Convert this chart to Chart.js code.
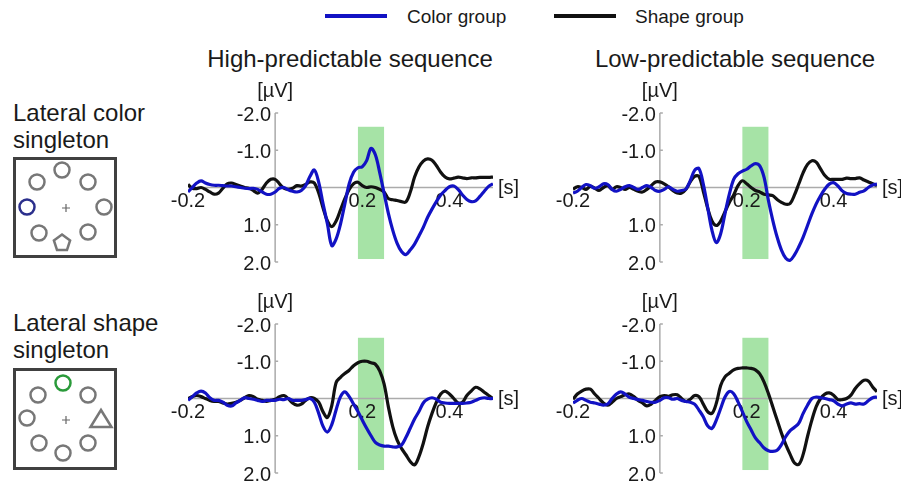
<!DOCTYPE html>
<html>
<head>
<meta charset="utf-8">
<title>ERP difference waves</title>
<script src="https://cdn.jsdelivr.net/npm/chart.js@4.4.1/dist/chart.umd.min.js"></script>
<style>
  body {
    margin: 0;
    width: 901px;
    height: 486px;
    position: relative;
    overflow: hidden;
    background: #fff;
    font-family: "Liberation Sans", Arial, sans-serif;
    color: #1a1a1a;
  }
  .txt { position: absolute; white-space: nowrap; }
  .legend { font-size: 19px; line-height: 19px; top: 7px; }
  .legend-line { position: absolute; top: 14px; height: 4px; width: 62px; }
  .title { font-size: 24px; line-height: 24px; top: 47px; width: 340px; text-align: center; }
  .row-label { font-size: 24px; line-height: 27px; left: 13px; }
  .panel { position: absolute; }
  svg { position: absolute; left: 0; top: 0; }
</style>
</head>
<body>

<div class="legend-line" style="left:325px;background:#1212c4"></div>
<div class="txt legend" style="left:407px">Color group</div>
<div class="legend-line" style="left:554px;background:#111"></div>
<div class="txt legend" style="left:635px">Shape group</div>

<div class="txt title" style="left:180px">High-predictable sequence</div>
<div class="txt title" style="left:565px">Low-predictable sequence</div>

<div class="txt row-label" style="top:99px">Lateral color<br>singleton</div>
<div class="txt row-label" style="top:309px">Lateral shape<br>singleton</div>

<!-- search displays -->
<svg width="130" height="486" viewBox="0 0 130 486">
  <g fill="none" stroke-width="2.5">
    <rect x="14.5" y="158.5" width="101" height="98" stroke="#404040" stroke-width="3"/>
    <g stroke="#777">
      <circle cx="62" cy="170" r="7.5"/>
      <circle cx="37" cy="182" r="7.5"/>
      <circle cx="88" cy="182" r="7.5"/>
      <circle cx="104" cy="207" r="7.5"/>
      <circle cx="39" cy="233" r="7.5"/>
      <circle cx="88" cy="232" r="7.5"/>
      <polygon points="62,234.5 70.1,240.4 67,249.9 57,249.9 53.9,240.4"/>
    </g>
    <circle cx="27" cy="207" r="7.5" stroke="#2b2f8c"/>
    <path d="M62 208h8M66 204v8" stroke="#666" stroke-width="1.2"/>

    <rect x="14.5" y="369.5" width="101" height="99" stroke="#404040" stroke-width="3"/>
    <g stroke="#777">
      <circle cx="38" cy="395" r="7.5"/>
      <circle cx="88" cy="395" r="7.5"/>
      <circle cx="27" cy="418" r="7.5"/>
      <circle cx="39" cy="443" r="7.5"/>
      <circle cx="88" cy="443" r="7.5"/>
      <circle cx="63" cy="453" r="7.5"/>
      <polygon points="101,410 90.5,427 111.5,427" stroke-linejoin="miter"/>
    </g>
    <circle cx="63" cy="383" r="7.5" stroke="#2a9a3a"/>
    <path d="M62 420h8M66 416v8" stroke="#666" stroke-width="1.2"/>
  </g>
</svg>

<div class="panel" id="wrapHighColor"><canvas id="highColor"></canvas></div>
<div class="panel" id="wrapLowColor"><canvas id="lowColor"></canvas></div>
<div class="panel" id="wrapHighShape"><canvas id="highShape"></canvas></div>
<div class="panel" id="wrapLowShape"><canvas id="lowShape"></canvas></div>

<script>
// time axis in seconds, 10 ms steps
const times = [
  -0.20, -0.19, -0.18, -0.17, -0.16, -0.15, -0.14, -0.13, -0.12, -0.11,
  -0.10, -0.09, -0.08, -0.07, -0.06, -0.05, -0.04, -0.03, -0.02, -0.01,
  0.00, 0.01, 0.02, 0.03, 0.04, 0.05, 0.06, 0.07, 0.08, 0.09,
  0.10, 0.11, 0.12, 0.13, 0.14, 0.15, 0.16, 0.17, 0.18, 0.19,
  0.20, 0.21, 0.22, 0.23, 0.24, 0.25, 0.26, 0.27, 0.28, 0.29,
  0.30, 0.31, 0.32, 0.33, 0.34, 0.35, 0.36, 0.37, 0.38, 0.39,
  0.40, 0.41, 0.42, 0.43, 0.44, 0.45, 0.46, 0.47, 0.48, 0.49,
  0.50
];

// µV, negative plotted upward
// lateral color singleton, high-predictable sequence
const colorGroupHighColor = [
  0.12, 0.00, -0.12, -0.18, -0.12, -0.08, -0.06, -0.06, -0.05, -0.04,
  -0.04, -0.02, 0.00, 0.02, 0.03, 0.02, 0.05, 0.12, 0.18, 0.18,
  0.12, 0.02, 0.00, 0.06, 0.10, 0.12, 0.08, -0.05, -0.30, -0.47,
  -0.14, 0.44, 0.98, 1.56, 1.38, 0.98, 0.44, -0.10, -0.41, -0.53,
  -0.56, -0.72, -1.05, -0.88, -0.40, 0.15, 0.70, 1.15, 1.50, 1.72,
  1.80, 1.68, 1.52, 1.30, 1.07, 0.80, 0.58, 0.38, 0.20, 0.08,
  -0.02, -0.04, 0.05, 0.20, 0.32, 0.38, 0.36, 0.24, 0.10, -0.03,
  -0.10
];
const shapeGroupHighColor = [
  -0.08, 0.02, 0.03, 0.00, 0.05, 0.12, 0.18, 0.15, 0.02, -0.10,
  -0.12, -0.08, -0.04, 0.00, 0.02, 0.08, 0.15, 0.05, -0.12, -0.22,
  -0.22, -0.10, 0.02, 0.05, 0.02, -0.05, -0.04, -0.08, -0.15, -0.12,
  0.15, 0.55, 0.90, 1.05, 0.90, 0.60, 0.30, 0.05, -0.10, -0.14,
  -0.05, 0.00, -0.02, 0.00, 0.05, 0.12, 0.30, 0.33, 0.35, 0.38,
  0.39, 0.13, -0.28, -0.55, -0.71, -0.77, -0.73, -0.59, -0.41, -0.28,
  -0.23, -0.25, -0.28, -0.26, -0.24, -0.26, -0.26, -0.27, -0.27, -0.27,
  -0.28
];

// lateral color singleton, low-predictable sequence
const colorGroupLowColor = [
  0.15, 0.10, 0.00, -0.08, -0.05, 0.02, -0.02, -0.10, -0.08, 0.05,
  0.10, 0.05, -0.02, -0.05, 0.00, 0.05, 0.00, -0.05, 0.00, 0.08,
  0.10, 0.05, -0.02, 0.05, 0.10, 0.08, 0.04, -0.18, -0.46, -0.51,
  -0.09, 0.53, 1.15, 1.48, 1.24, 0.70, 0.18, -0.22, -0.37, -0.44,
  -0.49, -0.58, -0.64, -0.58, -0.27, 0.35, 0.88, 1.33, 1.68, 1.90,
  1.95, 1.81, 1.59, 1.33, 1.02, 0.71, 0.44, 0.22, 0.04, -0.09,
  -0.13, -0.04, 0.09, 0.16, 0.18, 0.18, 0.13, 0.09, 0.00, -0.07,
  -0.09
];
const shapeGroupLowColor = [
  0.05, -0.02, 0.00, 0.05, -0.03, 0.02, 0.08, 0.00, -0.05, 0.05,
  -0.02, 0.00, 0.05, 0.00, 0.05, 0.10, 0.12, 0.05, -0.05, -0.15,
  -0.15, -0.10, -0.02, 0.08, 0.15, 0.15, 0.05, -0.15, -0.30, -0.30,
  0.10, 0.55, 0.90, 1.02, 0.90, 0.65, 0.40, 0.20, -0.05, -0.18,
  -0.10, 0.00, 0.08, 0.12, 0.18, 0.20, 0.22, 0.32, 0.40, 0.45,
  0.43, 0.20, -0.10, -0.40, -0.62, -0.72, -0.68, -0.50, -0.32, -0.22,
  -0.22, -0.22, -0.22, -0.25, -0.24, -0.24, -0.26, -0.20, -0.15, -0.10,
  -0.05
];

// lateral shape singleton, high-predictable sequence
const colorGroupHighShape = [
  0.05, -0.05, -0.15, -0.20, -0.15, -0.02, 0.05, 0.05, 0.10, 0.18,
  0.20, 0.12, 0.05, -0.02, 0.00, 0.02, 0.05, 0.08, 0.05, 0.05,
  0.05, 0.02, 0.03, 0.00, 0.05, 0.05, 0.05, 0.03, 0.00, 0.10,
  0.40, 0.75, 0.90, 0.70, 0.30, -0.05, -0.18, -0.05, 0.15, 0.35,
  0.58, 0.80, 1.00, 1.18, 1.25, 1.28, 1.28, 1.30, 1.30, 1.25,
  1.05, 0.80, 0.55, 0.35, 0.12, 0.02, -0.02, 0.02, 0.10, 0.12,
  0.13, 0.13, 0.13, 0.13, 0.12, 0.10, 0.05, 0.00, -0.02, 0.00,
  0.00
];
const shapeGroupHighShape = [
  0.00, -0.05, -0.08, -0.05, 0.00, 0.05, 0.08, 0.08, 0.12, 0.15,
  0.13, 0.10, 0.05, -0.02, -0.08, -0.05, 0.02, 0.05, 0.08, 0.05,
  0.02, -0.05, -0.08, 0.00, 0.12, 0.18, 0.15, 0.05, -0.02, 0.00,
  0.10, 0.36, 0.51, 0.19, -0.43, -0.57, -0.67, -0.76, -0.88, -0.96,
  -1.00, -1.00, -0.96, -0.92, -0.74, -0.39, 0.23, 0.76, 1.12, 1.34,
  1.51, 1.69, 1.78, 1.56, 1.20, 0.76, 0.40, 0.10, -0.12, -0.20,
  -0.12, 0.00, 0.12, 0.10, -0.08, -0.20, -0.30, -0.26, -0.17, -0.08,
  0.00
];

// lateral shape singleton, low-predictable sequence
const colorGroupLowShape = [
  0.12, 0.05, 0.00, 0.05, 0.10, 0.12, 0.15, 0.18, 0.15, 0.00,
  -0.12, -0.18, -0.12, -0.03, 0.00, 0.03, 0.05, 0.08, 0.10, 0.10,
  0.05, -0.02, -0.02, 0.02, 0.00, 0.05, 0.08, 0.10, 0.15, 0.31,
  0.49, 0.73, 0.80, 0.58, 0.27, -0.04, -0.19, -0.13, 0.09, 0.35,
  0.62, 0.84, 1.06, 1.19, 1.33, 1.40, 1.42, 1.39, 1.24, 1.02,
  0.86, 0.77, 0.66, 0.40, 0.18, 0.00, -0.04, -0.02, 0.00, 0.03,
  0.06, 0.15, 0.20, 0.15, 0.12, 0.15, 0.14, 0.15, 0.06, -0.02,
  -0.04
];
const shapeGroupLowShape = [
  0.02, -0.12, -0.20, -0.25, -0.25, -0.12, 0.00, 0.12, 0.18, 0.10,
  0.00, -0.05, -0.10, -0.12, -0.05, 0.05, 0.12, 0.20, 0.15, 0.05,
  -0.05, -0.08, -0.06, -0.10, -0.10, 0.00, 0.08, 0.02, -0.08, -0.05,
  0.15, 0.35, 0.40, 0.13, -0.35, -0.58, -0.68, -0.77, -0.81, -0.82,
  -0.82, -0.81, -0.77, -0.66, -0.44, -0.13, 0.22, 0.58, 0.93, 1.24,
  1.50, 1.73, 1.77, 1.50, 1.02, 0.58, 0.22, 0.00, -0.12, -0.15,
  -0.09, 0.03, 0.03, 0.00, -0.09, -0.27, -0.40, -0.49, -0.47, -0.31,
  -0.18
];

const xTicks = [-0.2, 0.2, 0.4];
const yTicks = [-2, -1, 1, 2];
const xUnit = '[s]';
const yUnit = '[µV]';

// analysis window (s) and its vertical extent (µV)
const windowStart = 0.19;
const windowEnd = 0.25;
const windowTop = -1.63;
const windowBottom = 1.92;

const COLOR_BLUE = '#1212c4';
const COLOR_BLACK = '#111111';
const PAD = { left: 40, right: 40, top: 40, bottom: 16 };

// axes through zero, tick labels and the shaded window, all under the waves
const erpAxes = {
  id: 'erpAxes',
  beforeDatasetsDraw(chart) {
    const { ctx, scales: { x, y } } = chart;
    const x0 = x.getPixelForValue(0);
    const y0 = y.getPixelForValue(0);
    ctx.save();

    const wx1 = x.getPixelForValue(windowStart);
    const wx2 = x.getPixelForValue(windowEnd);
    const wy1 = y.getPixelForValue(windowTop);
    const wy2 = y.getPixelForValue(windowBottom);
    ctx.fillStyle = '#a6e3a6';
    ctx.fillRect(wx1, wy1, wx2 - wx1, wy2 - wy1);

    ctx.strokeStyle = '#ababab';
    ctx.lineWidth = 1.5;
    ctx.beginPath();
    ctx.moveTo(x.left, y0);
    ctx.lineTo(x.right, y0);
    ctx.moveTo(x0, y.top);
    ctx.lineTo(x0, y.bottom);
    yTicks.forEach((v) => {
      const py = y.getPixelForValue(v);
      ctx.moveTo(x0, py);
      ctx.lineTo(x0 + 3, py);
    });
    ctx.stroke();

    ctx.fillStyle = '#1a1a1a';
    ctx.font = '20px "Liberation Sans", Arial, sans-serif';
    ctx.textAlign = 'right';
    ctx.textBaseline = 'middle';
    yTicks.forEach((v) => ctx.fillText(v.toFixed(1), x0 - 4, y.getPixelForValue(v) + 2));

    ctx.textAlign = 'center';
    ctx.textBaseline = 'top';
    xTicks.forEach((v) => ctx.fillText(v.toFixed(1), x.getPixelForValue(v), y0 + 4));

    ctx.textBaseline = 'middle';
    ctx.fillText(yUnit, x0, y.top - 22);
    ctx.textAlign = 'left';
    ctx.fillText(xUnit, x.right + 5, y0 + 1);
    ctx.restore();
  }
};

const toPoints = (values) => values.map((v, i) => ({ x: times[i], y: v }));

function drawPanel(canvasId, area, colorValues, shapeValues) {
  const canvas = document.getElementById(canvasId);
  const width = area.right - area.left + PAD.left + PAD.right;
  const height = area.bottom - area.top + PAD.top + PAD.bottom;
  canvas.width = width;
  canvas.height = height;
  const wrap = canvas.parentElement;
  wrap.style.left = `${area.left - PAD.left}px`;
  wrap.style.top = `${area.top - PAD.top}px`;

  return new Chart(canvas, {
    type: 'line',
    data: {
      datasets: [{
        label: 'Color group',
        data: toPoints(colorValues),
        borderColor: COLOR_BLUE
      }, {
        label: 'Shape group',
        data: toPoints(shapeValues),
        borderColor: COLOR_BLACK
      }]
    },
    options: {
      responsive: false,
      animation: false,
      devicePixelRatio: 1,
      layout: { padding: PAD },
      elements: {
        point: { radius: 0 },
        line: { borderWidth: 3.2, tension: 0.35, fill: false }
      },
      scales: {
        x: { type: 'linear', min: -0.2, max: 0.5, display: false },
        y: { min: -2, max: 2, reverse: true, display: false }
      },
      plugins: {
        legend: { display: false },
        tooltip: { enabled: false }
      }
    },
    plugins: [erpAxes]
  });
}

const leftArea = { left: 187.6, right: 493.5 };
const rightArea = { left: 573, right: 877.5 };
const topRow = { top: 112.5, bottom: 261.5 };
const bottomRow = { top: 324, bottom: 473 };

drawPanel('highColor', { ...leftArea, ...topRow }, colorGroupHighColor, shapeGroupHighColor);
drawPanel('lowColor', { ...rightArea, ...topRow }, colorGroupLowColor, shapeGroupLowColor);
drawPanel('highShape', { ...leftArea, ...bottomRow }, colorGroupHighShape, shapeGroupHighShape);
drawPanel('lowShape', { ...rightArea, ...bottomRow }, colorGroupLowShape, shapeGroupLowShape);
</script>
</body>
</html>
